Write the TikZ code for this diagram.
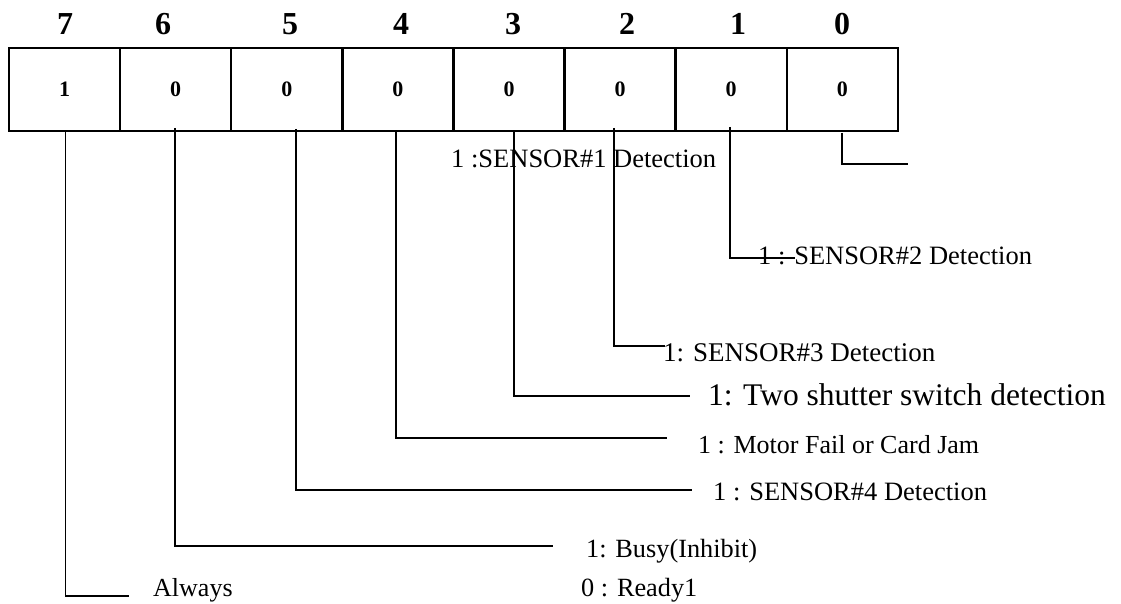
\documentclass[tikz,border=0pt]{standalone}
\usepackage{fontspec}
\setmainfont{Liberation Serif}
\usetikzlibrary{calc}
\begin{document}
\begin{tikzpicture}[x=1pt,y=-1pt,
  cell/.style={draw,line width=2.4pt,minimum width=111.1pt,minimum height=83pt,
    inner sep=0pt,outer sep=0pt,font=\fontsize{22}{22}\selectfont\bfseries},
  bitno/.style={inner sep=0pt,font=\fontsize{32}{32}\selectfont\bfseries},
  lead/.style={line width=1.7pt},
  note/.style={anchor=base west,inner sep=0pt,font=\fontsize{26.5}{30}\selectfont},
]
\useasboundingbox (0,0) rectangle (1121,604);

% bit numbers
\node[bitno] (h7) at (65,24) {7};
\node[bitno] (h6) at (163,24) {6};
\node[bitno] (h5) at (290,24) {5};
\node[bitno] (h4) at (401,24) {4};
\node[bitno] (h3) at (513,24) {3};
\node[bitno] (h2) at (627,24) {2};
\node[bitno] (h1) at (738,24) {1};
\node[bitno] (h0) at (842,24) {0};

% register cells
\node[cell] (c7) at (64.6,89.5) {1};
\node[cell] (c6) at (175.7,89.5) {0};
\node[cell] (c5) at (286.8,89.5) {0};
\node[cell] (c4) at (397.9,89.5) {0};
\node[cell] (c3) at (509.0,89.5) {0};
\node[cell] (c2) at (620.1,89.5) {0};
\node[cell] (c1) at (731.2,89.5) {0};
\node[cell] (c0) at (842.3,89.5) {0};

% ends of the leader lines
\coordinate (e0) at (908,164);
\coordinate (e1) at (795,258);
\coordinate (e2) at (665,346);
\coordinate (e3) at (690,396);
\coordinate (e4) at (667,438);
\coordinate (e5) at (692,490);
\coordinate (e6) at (553,546);
\coordinate (e7) at (129,596);

% leader lines
\draw[lead] ($(c0.south)+(0,2)$) |- (e0);
\draw[lead] ($(c1.south)+(-1,-4)$) |- (e1);
\draw[lead] ($(c2.south)+(-6,-3)$) |- (e2);
\draw[lead] ($(c3.south)+(5,0)$) |- (e3);
\draw[lead] ($(c4.south)+(-2,0)$) |- (e4);
\draw[lead] ($(c5.south)+(9,-2)$) |- (e5);
\draw[lead] ($(c6.south)+(-1,-3)$) |- (e6);
\draw[lead] ($(c7.south)+(1,0)$) |- (e7);

% bit descriptions
\node[note] (t1) at (451,168) {1 :SENSOR\#1 Detection};
\node[note] (t2) at (758,264) {1 : SENSOR\#2 Detection};
\node[note,font=\fontsize{27}{30}\selectfont] (t3) at (663,361) {1: SENSOR\#3 Detection};
\node[note,font=\fontsize{31.5}{34}\selectfont] (t4) at (708,405) {1: Two shutter switch detection};
\node[note,font=\fontsize{26}{30}\selectfont] (t5) at (698,453) {1 : Motor Fail or Card Jam};
\node[note] (t6) at (713,500) {1 : SENSOR\#4 Detection};
\node[note,font=\fontsize{26.3}{30}\selectfont] (t7) at (586,557) {1: Busy(Inhibit)};
\node[note,font=\fontsize{26.3}{30}\selectfont] (t8) at (581,596) {0 : Ready1};
\node[note,font=\fontsize{26}{30}\selectfont] (t9) at (153,596) {Always};
\end{tikzpicture}
\end{document}
